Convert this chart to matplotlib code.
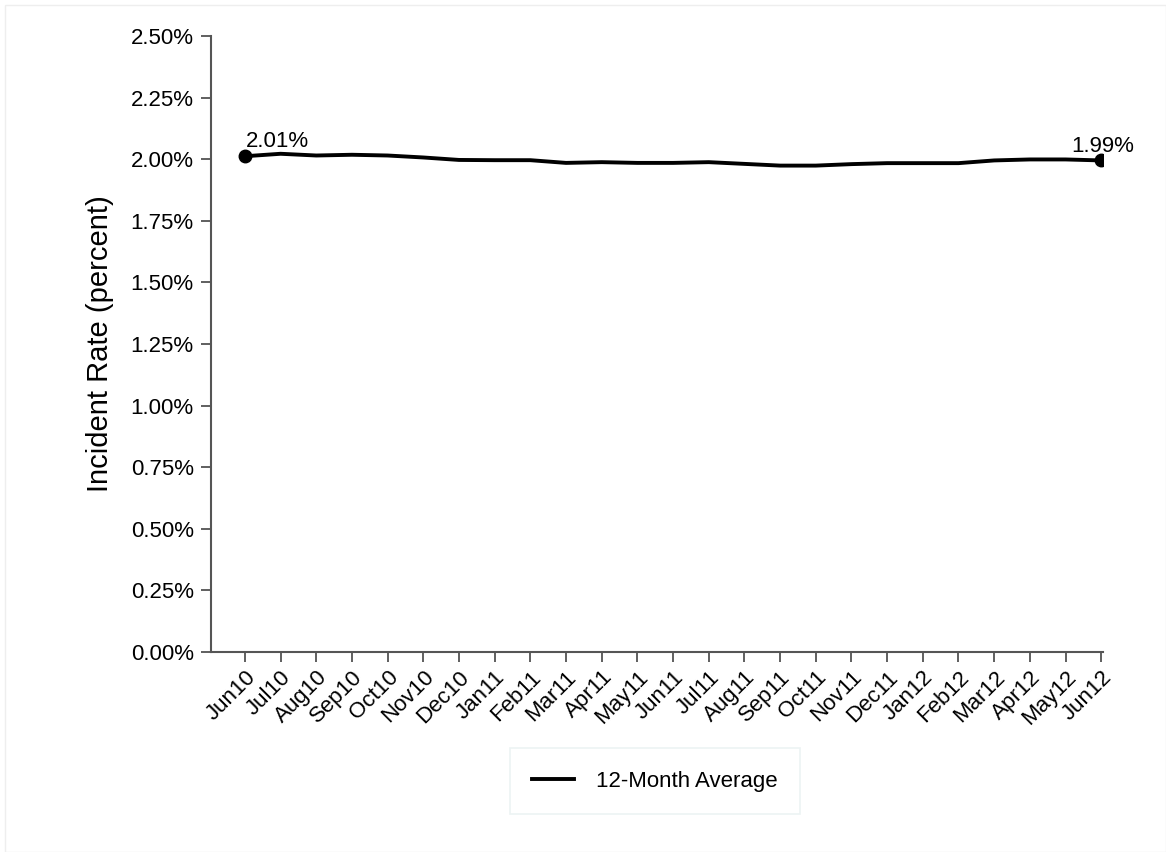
import matplotlib.pyplot as plt
from matplotlib.ticker import FuncFormatter

plt.rcParams['font.family'] = ['Liberation Sans', 'DejaVu Sans']

# Data
months = ["Jun10", "Jul10", "Aug10", "Sep10", "Oct10", "Nov10", "Dec10",
          "Jan11", "Feb11", "Mar11", "Apr11", "May11", "Jun11", "Jul11",
          "Aug11", "Sep11", "Oct11", "Nov11", "Dec11", "Jan12", "Feb12",
          "Mar12", "Apr12", "May12", "Jun12"]
avg_12m = [2.012, 2.022, 2.015, 2.018, 2.015, 2.007, 1.997, 1.996, 1.996,
           1.985, 1.988, 1.985, 1.985, 1.988, 1.981, 1.974, 1.974, 1.980,
           1.984, 1.984, 1.984, 1.995, 1.999, 1.999, 1.995]
end_labels = ["2.01%", "1.99%"]

fig = plt.figure(figsize=(11.66, 8.52), dpi=100)
ax = fig.add_axes([211 / 1166, 1 - 652 / 852, (1103 - 211) / 1166, (652 - 36) / 852])

x = list(range(len(months)))
ax.plot(x, avg_12m, color="black", lw=2.8, label="12-Month Average")
ax.plot([x[0], x[-1]], [avg_12m[0], avg_12m[-1]], "o", color="black", ms=9)

ax.annotate(end_labels[0], (x[0], avg_12m[0]), xytext=(1, 7),
            textcoords="offset points", fontsize=16)
ax.annotate(end_labels[1], (x[-1], avg_12m[-1]), xytext=(1, 6),
            textcoords="offset points", fontsize=16, ha="center")

ax.set_xlim(-0.95, 24.05)
ax.set_ylim(0, 2.5)
ax.set_yticks([i * 0.25 for i in range(11)])
ax.yaxis.set_major_formatter(FuncFormatter(lambda v, p: f"{v:.2f}%"))
ax.set_xticks(x)
ax.set_xticklabels(months, rotation=45, ha="right", rotation_mode="anchor")

ax.tick_params(labelsize=16, direction="out", length=7.5, width=1.2,
               color="#444444", pad=5)
ax.tick_params(axis="x", pad=3)
ax.set_ylabel("Incident Rate (percent)", fontsize=21, labelpad=12)

for s in ["top", "right"]:
    ax.spines[s].set_visible(False)
for s in ["left", "bottom"]:
    ax.spines[s].set_color("#555555")
    ax.spines[s].set_linewidth(1.5)

leg = fig.legend(loc="center", bbox_to_anchor=(655 / 1166, 1 - 781 / 852),
                 fontsize=16, frameon=True, fancybox=False, borderpad=1.0,
                 handlelength=1.9, handletextpad=1.0, borderaxespad=0)
leg.get_frame().set_edgecolor("#e8f0f0")
leg.get_frame().set_linewidth(1.2)

fig.patches.append(plt.Rectangle((5 / 1166, 0), 1 - 5 / 1166, 1 - 5 / 852,
                                 transform=fig.transFigure, fill=False,
                                 edgecolor="#eeeeee", lw=1))

fig.savefig("out.png", dpi=100)
